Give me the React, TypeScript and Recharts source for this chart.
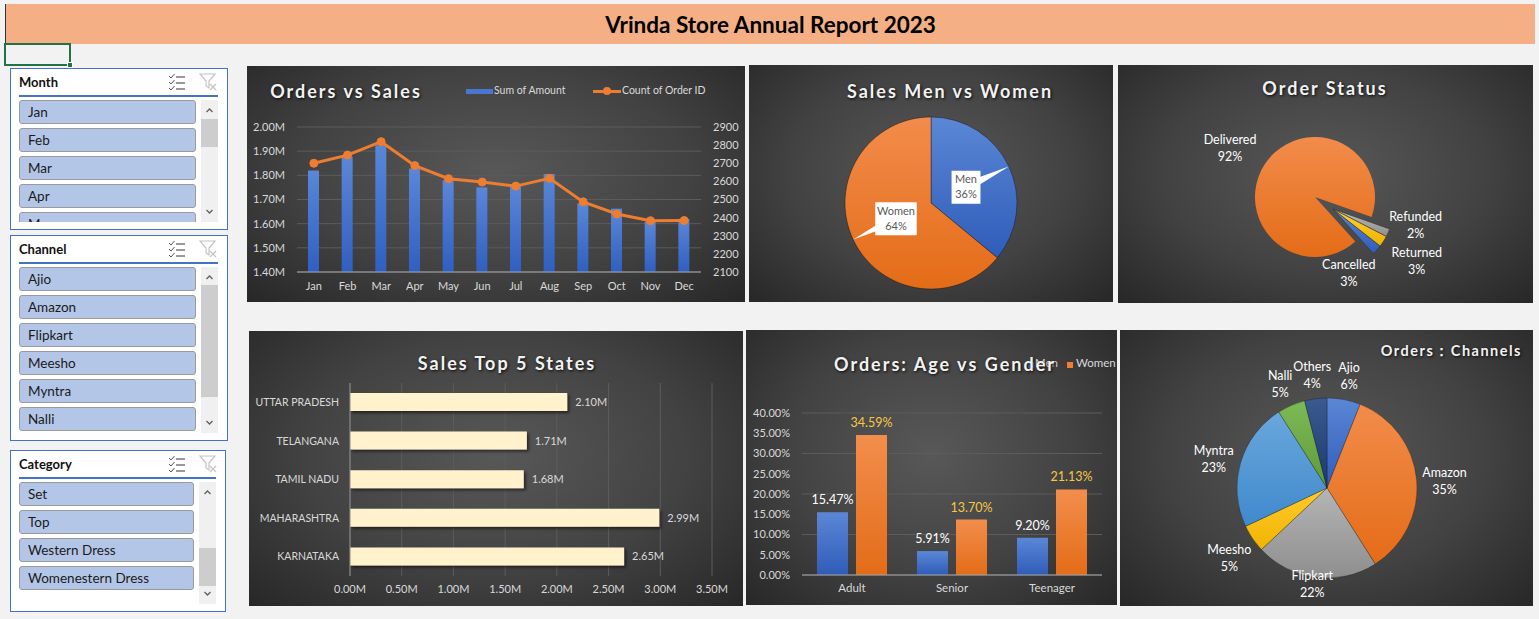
import React from "react";
import {
  ComposedChart,
  BarChart,
  Bar,
  Line,
  XAxis,
  YAxis,
  CartesianGrid,
  PieChart,
  Pie,
  Cell,
  LabelList,
} from "recharts";

const FONT = "Lato, 'Open Sans', sans-serif";
const TICK = "#d9d9d9";
const GRID = "#5c5c5c";
const PANEL_BG =
  "radial-gradient(ellipse at 50% 45%, #585858 0%, #424242 55%, #272727 100%)";
const NO_MARGIN = { top: 0, right: 0, bottom: 0, left: 0 };

// slicer items
const monthItems = ["Jan", "Feb", "Mar", "Apr", "May"];
const channelItems = ["Ajio", "Amazon", "Flipkart", "Meesho", "Myntra", "Nalli"];
const categoryItems = ["Set", "Top", "Western Dress", "Womenestern Dress"];

// orders vs sales
const months = ["Jan", "Feb", "Mar", "Apr", "May", "Jun", "Jul", "Aug", "Sep", "Oct", "Nov", "Dec"];
const salesAmount = [1820000, 1877000, 1925000, 1828000, 1780000, 1750000, 1760000, 1806000, 1684000, 1662000, 1608000, 1620000];
const orderCount = [2700, 2745, 2819, 2687, 2615, 2596, 2574, 2617, 2487, 2420, 2383, 2384];
const amountTicks = [1400000, 1500000, 1600000, 1700000, 1800000, 1900000, 2000000];
const countTicks = [2100, 2200, 2300, 2400, 2500, 2600, 2700, 2800, 2900];

// sales men vs women
const genderNames = ["Men", "Women"];
const genderSales = [36, 64];

// order status
const statusNames = ["Cancelled", "Delivered", "Refunded", "Returned"];
const statusShare = [2.7, 92.1, 2.2, 3.0];

// top 5 states
const states = ["UTTAR PRADESH", "TELANGANA", "TAMIL NADU", "MAHARASHTRA", "KARNATAKA"];
const stateSales = [2100000, 1710000, 1680000, 2990000, 2650000];
const stateTicks = [0, 500000, 1000000, 1500000, 2000000, 2500000, 3000000, 3500000];

// age vs gender
const ageGroups = ["Adult", "Senior", "Teenager"];
const menShare = [15.47, 5.91, 9.2];
const womenShare = [34.59, 13.7, 21.13];
const pctTicks = [0, 5, 10, 15, 20, 25, 30, 35, 40];

// channels
const channelNames = ["Ajio", "Amazon", "Flipkart", "Meesho", "Myntra", "Nalli", "Others"];
const channelShare = [6, 35, 22, 5, 23, 5, 4];

const salesData = months.map((m, i) => ({ month: m, amount: salesAmount[i], orders: orderCount[i] }));
const genderData = genderNames.map((n, i) => ({ name: n, value: genderSales[i] }));
const statusData = statusNames.map((n, i) => ({ name: n, value: statusShare[i] }));
const stateData = states.map((s, i) => ({ state: s, sales: stateSales[i] }));
const ageData = ageGroups.map((a, i) => ({ age: a, men: menShare[i], women: womenShare[i] }));
const channelData = channelNames.map((n, i) => ({ name: n, value: channelShare[i] }));

const statusFill: Record<string, string> = {
  Cancelled: "url(#stBlue)",
  Delivered: "url(#stOrange)",
  Refunded: "url(#stGray)",
  Returned: "url(#stYellow)",
};
const channelGrad: Record<string, [string, string]> = {
  Ajio: ["#5b87d6", "#2f5cb8"],
  Amazon: ["#f28c4b", "#e46c17"],
  Flipkart: ["#b5b5b5", "#8e8e8e"],
  Meesho: ["#ffcb2e", "#f0b400"],
  Myntra: ["#6aa7dc", "#3f89cc"],
  Nalli: ["#7dba56", "#5f9a38"],
  Others: ["#3a5a90", "#1e3a6e"],
};

const fmtM = (v: number) => (v / 1000000).toFixed(2) + "M";
const fmtPct = (v: number) => v.toFixed(2) + "%";
const RAD = Math.PI / 180;

// exploded slices of the order status pie
const EXPLODE_DX = 18;
const EXPLODE_DY = 12;

function MultiSelectIcon() {
  return (
    <svg width={18} height={18} viewBox="0 0 18 18">
      {[3, 9, 15].map((y) => (
        <g key={y}>
          <polyline points={`1,${y - 1} 3,${y + 1} 6.5,${y - 3}`} fill="none" stroke="#555" strokeWidth={1} />
          <line x1={8} y1={y} x2={17} y2={y} stroke="#555" strokeWidth={1.2} />
        </g>
      ))}
    </svg>
  );
}

function ClearFilterIcon() {
  return (
    <svg width={19} height={19} viewBox="0 0 19 19">
      <path d="M1,2 L16,2 L10,9 L10,16 L7,14 L7,9 Z" fill="none" stroke="#c4c4c4" strokeWidth={1.2} />
      <line x1={11} y1={12} x2={17} y2={18} stroke="#c4c4c4" strokeWidth={1.2} />
      <line x1={17} y1={12} x2={11} y2={18} stroke="#c4c4c4" strokeWidth={1.2} />
    </svg>
  );
}

type SlicerProps = {
  title: string;
  items: string[];
  left: number;
  top: number;
  width: number;
  height: number;
  listHeight: number;
  itemWidth: number;
  thumbTop: number;
  thumbHeight: number;
};

function Slicer(p: SlicerProps) {
  const sbLeft = p.itemWidth + 13;
  return (
    <div
      style={{
        position: "absolute",
        left: p.left,
        top: p.top,
        width: p.width,
        height: p.height,
        background: "#fff",
        border: "1px solid #4472C4",
        boxSizing: "border-box",
      }}
    >
      <div style={{ position: "absolute", left: 8, top: 4, fontWeight: 700, fontSize: 13, color: "#111", lineHeight: "18px" }}>
        {p.title}
      </div>
      <div style={{ position: "absolute", left: 157, top: 5 }}>
        <MultiSelectIcon />
      </div>
      <div style={{ position: "absolute", left: 188, top: 3 }}>
        <ClearFilterIcon />
      </div>
      <div style={{ position: "absolute", left: 8, top: 26, width: p.width - 19, height: 2, background: "#4472C4" }} />
      <div style={{ position: "absolute", left: 8, top: 31, width: p.itemWidth, height: p.listHeight, overflow: "hidden" }}>
        {p.items.map((it, i) => (
          <div
            key={it}
            style={{
              position: "absolute",
              left: 0,
              top: i * 28,
              width: p.itemWidth,
              height: 24,
              boxSizing: "border-box",
              background: "#B4C6E7",
              border: "1px solid #9a9a9a",
              borderRadius: 3,
              fontSize: 13.5,
              lineHeight: "22px",
              paddingLeft: 8,
              color: "#1a1a1a",
            }}
          >
            {it}
          </div>
        ))}
      </div>
      <div style={{ position: "absolute", left: sbLeft, top: 31, width: 17, height: p.listHeight, background: "#f0f0f0" }}>
        <div style={{ position: "absolute", left: 0, top: p.thumbTop, width: 17, height: p.thumbHeight, background: "#cdcdcd" }} />
        <svg width={17} height={p.listHeight} style={{ position: "absolute", left: 0, top: 0 }}>
          <polyline points="5.5,12 8.5,9 11.5,12" fill="none" stroke="#606060" strokeWidth={1.3} />
          <polyline
            points={`5.5,${p.listHeight - 12} 8.5,${p.listHeight - 9} 11.5,${p.listHeight - 12}`}
            fill="none"
            stroke="#606060"
            strokeWidth={1.3}
          />
        </svg>
      </div>
    </div>
  );
}

function Panel({ left, top, width, height, children }: any) {
  return (
    <div style={{ position: "absolute", left, top, width, height, background: PANEL_BG, overflow: "hidden" }}>
      {children}
    </div>
  );
}

function PanelTitle({ text, cx, cy, size = 18, spacing = 2, right }: any) {
  const pos: any = right !== undefined ? { right, top: cy, transform: "translateY(-50%)" } : { left: cx, top: cy, transform: "translate(-50%,-50%)" };
  return (
    <div
      style={{
        position: "absolute",
        ...pos,
        whiteSpace: "nowrap",
        color: "#f2f2f2",
        fontWeight: 700,
        fontSize: size,
        letterSpacing: spacing,
        textShadow: "1px 1px 3px rgba(0,0,0,0.9)",
      }}
    >
      {text}
    </div>
  );
}

function StateTick(props: any) {
  const { x, y, payload } = props;
  return (
    <text x={x} y={y} dy="0.355em" textAnchor="end" fill={TICK} fontSize={10.5}>
      {payload.value}
    </text>
  );
}

function GenderCallout(props: any) {
  const { cx, cy, midAngle, outerRadius, percent, payload } = props;
  const cos = Math.cos(-midAngle * RAD);
  const sin = Math.sin(-midAngle * RAD);
  const bx = cx + outerRadius * 0.45 * cos;
  const by = cy + outerRadius * 0.43 * sin;
  const tx = cx + outerRadius * cos;
  const ty = cy + outerRadius * sin;
  const name = payload.name;
  const w = name.length * 6.3 + 10;
  const h = 33;
  const px = -sin;
  const py = cos;
  const pts = `${bx + px * 5},${by + py * 5} ${bx - px * 5},${by - py * 5} ${tx},${ty}`;
  return (
    <g>
      <polygon points={pts} fill="#fff" />
      <rect x={bx - w / 2} y={by - h / 2} width={w} height={h} fill="#fff" />
      <text x={bx} y={by - 4} textAnchor="middle" fill="#595959" fontSize={11}>
        {name}
      </text>
      <text x={bx} y={by + 11} textAnchor="middle" fill="#595959" fontSize={11}>
        {Math.round(percent * 100)}%
      </text>
    </g>
  );
}

const statusNudge: Record<string, [number, number]> = {
  Delivered: [-10, 1],
  Refunded: [0, -20],
  Returned: [8, 3],
  Cancelled: [-50, 3],
};

function makeStatusLabel(exploded: boolean) {
  return (props: any) => {
    const { cx, cy, midAngle, outerRadius, percent, payload } = props;
    const name = payload.name;
    if ((name === "Delivered") === exploded) return null;
    const r = outerRadius + 30;
    const [dx, dy] = statusNudge[name];
    const x = cx + r * Math.cos(-midAngle * RAD) + dx;
    const y = cy + r * Math.sin(-midAngle * RAD) + dy;
    return (
      <g>
        <text x={x} y={y - 4} textAnchor="middle" fill="#fff" fontSize={12.5}>
          {name}
        </text>
        <text x={x} y={y + 13} textAnchor="middle" fill="#fff" fontSize={12.5}>
          {Math.round(percent * 100)}%
        </text>
      </g>
    );
  };
}

function ChannelLabel(props: any) {
  const { cx, cy, midAngle, outerRadius, percent, payload } = props;
  const r = outerRadius + 28;
  const x = cx + r * Math.cos(-midAngle * RAD);
  const y = Math.min(cy + r * Math.sin(-midAngle * RAD), cy + outerRadius + 2);
  return (
    <g>
      <text x={x} y={y} textAnchor="middle" fill="#fff" fontSize={12.5}>
        {payload.name}
      </text>
      <text x={x} y={y + 17} textAnchor="middle" fill="#fff" fontSize={12.5}>
        {Math.round(percent * 100)}%
      </text>
    </g>
  );
}

function Grad({ id, top, bottom }: { id: string; top: string; bottom: string }) {
  return (
    <linearGradient id={id} x1="0" y1="0" x2="0" y2="1">
      <stop offset="0%" stopColor={top} />
      <stop offset="100%" stopColor={bottom} />
    </linearGradient>
  );
}

export default function App() {
  return (
    <div
      style={{
        position: "absolute",
        left: 0,
        top: 0,
        width: 1539,
        height: 619,
        background: "#f2f2f2",
        fontFamily: FONT,
        overflow: "hidden",
      }}
    >
      {/* header bar */}
      <div
        style={{
          position: "absolute",
          left: 5,
          top: 4,
          width: 1530,
          height: 40,
          background: "#F4B084",
          borderLeft: "1px solid #333",
          boxSizing: "border-box",
          display: "flex",
          alignItems: "center",
          justifyContent: "center",
          fontWeight: 700,
          fontSize: 22.5,
          color: "#000",
        }}
      >
        Vrinda Store Annual Report 2023
      </div>
      {/* selected cell */}
      <div style={{ position: "absolute", left: 4, top: 43, width: 67, height: 23, border: "2px solid #217346", boxSizing: "border-box" }} />
      <div style={{ position: "absolute", left: 67, top: 62, width: 6, height: 6, background: "#217346", border: "1px solid #fff", boxSizing: "border-box" }} />

      <Slicer title="Month" items={monthItems} left={10} top={68} width={218} height={162} listHeight={122} itemWidth={177} thumbTop={19} thumbHeight={28} />
      <Slicer title="Channel" items={channelItems} left={10} top={235} width={218} height={206} listHeight={166} itemWidth={177} thumbTop={18} thumbHeight={112} />
      <Slicer title="Category" items={categoryItems} left={10} top={450} width={216} height={162} listHeight={122} itemWidth={175} thumbTop={66} thumbHeight={38} />

      {/* Orders vs Sales */}
      <Panel left={247} top={66} width={498} height={236}>
        <ComposedChart width={498} height={236} data={salesData} margin={{ top: 61, right: 0, bottom: 0, left: 0 }}>
          <defs>
            <Grad id="osBlue" top="#5b87d8" bottom="#2f5fc0" />
          </defs>
          <CartesianGrid yAxisId="amt" vertical={false} stroke={GRID} />
          <XAxis dataKey="month" height={30} interval={0} tickLine={false} axisLine={{ stroke: "#a6a6a6" }} tick={{ fill: TICK, fontSize: 11 }} tickMargin={4} />
          <YAxis yAxisId="amt" width={50} domain={[1400000, 2000000]} ticks={amountTicks} tickFormatter={fmtM} axisLine={false} tickLine={false} tick={{ fill: TICK, fontSize: 11 }} tickMargin={6} allowDataOverflow />
          <YAxis yAxisId="cnt" orientation="right" width={44} domain={[2100, 2900]} ticks={countTicks} axisLine={false} tickLine={false} tick={{ fill: TICK, fontSize: 11 }} tickMargin={6} />
          <Bar yAxisId="amt" dataKey="amount" fill="url(#osBlue)" barSize={11} isAnimationActive={false} />
          <Line yAxisId="cnt" type="linear" dataKey="orders" stroke="#ED7D31" strokeWidth={3} dot={{ r: 4, fill: "#ED7D31", stroke: "#ED7D31", strokeWidth: 1 }} isAnimationActive={false} />
        </ComposedChart>
        <PanelTitle text="Orders vs Sales" cx={99} cy={25} />
        <div style={{ position: "absolute", left: 219, top: 23, width: 27, height: 5, background: "#4a76cf" }} />
        <div style={{ position: "absolute", left: 247, top: 18, fontSize: 10.5, color: TICK }}>Sum of Amount</div>
        <div style={{ position: "absolute", left: 346, top: 24, width: 28, height: 3, background: "#ED7D31" }} />
        <div style={{ position: "absolute", left: 356, top: 21, width: 8, height: 8, borderRadius: 4, background: "#ED7D31" }} />
        <div style={{ position: "absolute", left: 375, top: 18, fontSize: 10.5, color: TICK }}>Count of Order ID</div>
      </Panel>

      {/* Sales Men vs Women */}
      <Panel left={749} top={65} width={364} height={237}>
        <PieChart width={364} height={237} margin={NO_MARGIN}>
          <defs>
            <Grad id="gwBlue" top="#5b87d6" bottom="#2f5cb8" />
            <Grad id="gwOrange" top="#f28c4b" bottom="#e46c17" />
          </defs>
          <Pie data={genderData} dataKey="value" nameKey="name" cx={182} cy={138} outerRadius={86} startAngle={90} endAngle={-270} stroke="rgba(0,0,0,0.35)" strokeWidth={1} label={GenderCallout} labelLine={false} isAnimationActive={false}>
            <Cell fill="url(#gwBlue)" />
            <Cell fill="url(#gwOrange)" />
          </Pie>
        </PieChart>
        <PanelTitle text="Sales Men vs Women" cx={201} cy={26} />
      </Panel>

      {/* Order Status */}
      <Panel left={1118} top={65} width={415} height={238}>
        <PieChart width={415} height={238} margin={NO_MARGIN}>
          <defs>
            <Grad id="stBlue" top="#5b87d6" bottom="#2f5cb8" />
            <Grad id="stOrange" top="#f28c4b" bottom="#e46c17" />
            <Grad id="stGray" top="#bdbdbd" bottom="#8e8e8e" />
            <Grad id="stYellow" top="#ffcf33" bottom="#f0b400" />
          </defs>
          <Pie data={statusData} dataKey="value" nameKey="name" cx={197} cy={132} outerRadius={60} startAngle={-38.1} endAngle={-398.1} stroke="none" label={makeStatusLabel(false)} labelLine={false} isAnimationActive={false}>
            {statusData.map((d) => (
              <Cell key={d.name} fill={d.name === "Delivered" ? statusFill[d.name] : "transparent"} />
            ))}
          </Pie>
          <Pie data={statusData} dataKey="value" nameKey="name" cx={197 + EXPLODE_DX} cy={132 + EXPLODE_DY} outerRadius={60} startAngle={-38.1} endAngle={-398.1} stroke="none" label={makeStatusLabel(true)} labelLine={false} isAnimationActive={false}>
            {statusData.map((d) => (
              <Cell key={d.name} fill={d.name === "Delivered" ? "transparent" : statusFill[d.name]} stroke={d.name === "Delivered" ? "none" : "#333"} strokeWidth={0.6} />
            ))}
          </Pie>
        </PieChart>
        <PanelTitle text="Order Status" cx={207} cy={23} />
      </Panel>

      {/* Sales Top 5 States */}
      <Panel left={249} top={331} width={494} height={275}>
        <BarChart layout="vertical" width={494} height={275} data={stateData} margin={{ top: 52, right: 31, bottom: 0, left: 0 }}>
          <defs>
            <filter id="barShadow" x="-10%" y="-30%" width="130%" height="180%">
              <feDropShadow dx="2" dy="2" stdDeviation="1.5" floodColor="#000" floodOpacity="0.55" />
            </filter>
          </defs>
          <CartesianGrid horizontal={false} stroke={GRID} />
          <XAxis type="number" domain={[0, 3500000]} ticks={stateTicks} tickFormatter={fmtM} height={30} axisLine={false} tickLine={false} tick={{ fill: TICK, fontSize: 11 }} tickMargin={3} />
          <YAxis type="category" dataKey="state" width={101} interval={0} axisLine={{ stroke: "#8c8c8c" }} tickLine={false} tick={<StateTick />} tickMargin={5} />
          <Bar dataKey="sales" fill="#FFF2CC" barSize={18} filter="url(#barShadow)" isAnimationActive={false}>
            <LabelList dataKey="sales" position="right" offset={8} formatter={(v: any) => fmtM(Number(v))} fill={TICK} fontSize={11} />
          </Bar>
        </BarChart>
        <PanelTitle text="Sales Top 5 States" cx={258} cy={32} />
      </Panel>

      {/* Orders: Age vs Gender */}
      <Panel left={746} top={330} width={371} height={275}>
        <BarChart width={371} height={275} data={ageData} margin={{ top: 83, right: 15, bottom: 0, left: 0 }} barGap={8} barCategoryGap="15%">
          <defs>
            <Grad id="agBlue" top="#5b87d6" bottom="#2f5cb8" />
            <Grad id="agOrange" top="#f28e4c" bottom="#e36c18" />
          </defs>
          <CartesianGrid vertical={false} stroke={GRID} />
          <XAxis dataKey="age" height={30} interval={0} tickLine={false} axisLine={{ stroke: "#a6a6a6" }} tick={{ fill: TICK, fontSize: 11.5 }} tickMargin={3} />
          <YAxis width={56} domain={[0, 40]} ticks={pctTicks} tickFormatter={fmtPct} axisLine={false} tickLine={false} tick={{ fill: TICK, fontSize: 11 }} tickMargin={6} />
          <Bar dataKey="men" fill="url(#agBlue)" isAnimationActive={false}>
            <LabelList dataKey="men" position="top" offset={8} formatter={(v: any) => fmtPct(Number(v))} fill="#ffffff" fontSize={12.5} />
          </Bar>
          <Bar dataKey="women" fill="url(#agOrange)" isAnimationActive={false}>
            <LabelList dataKey="women" position="top" offset={8} formatter={(v: any) => fmtPct(Number(v))} fill="#F8C844" fontSize={12.5} />
          </Bar>
        </BarChart>
        <div style={{ position: "absolute", left: 282, top: 32, width: 6, height: 6, background: "#4472C4" }} />
        <div style={{ position: "absolute", left: 289, top: 26, fontSize: 11.5, color: TICK }}>Men</div>
        <div style={{ position: "absolute", left: 321, top: 32, width: 6, height: 6, background: "#ED7D31" }} />
        <div style={{ position: "absolute", left: 330, top: 26, fontSize: 11.5, color: TICK }}>Women</div>
        <PanelTitle text="Orders: Age vs Gender" cx={199} cy={34} />
      </Panel>

      {/* Orders: Channels */}
      <Panel left={1120} top={330} width={413} height={276}>
        <PieChart width={413} height={276} margin={NO_MARGIN}>
          <defs>
            {channelNames.map((n) => (
              <Grad key={n} id={"ch" + n} top={channelGrad[n][0]} bottom={channelGrad[n][1]} />
            ))}
          </defs>
          <Pie data={channelData} dataKey="value" nameKey="name" cx={207} cy={158} outerRadius={90} startAngle={90} endAngle={-270} stroke="rgba(0,0,0,0.25)" strokeWidth={1} label={ChannelLabel} labelLine={false} isAnimationActive={false}>
            {channelData.map((d) => (
              <Cell key={d.name} fill={"url(#ch" + d.name + ")"} />
            ))}
          </Pie>
        </PieChart>
        <PanelTitle text="Orders：Channels" right={11} cy={21} size={14.5} spacing={1.5} />
      </Panel>
    </div>
  );
}
